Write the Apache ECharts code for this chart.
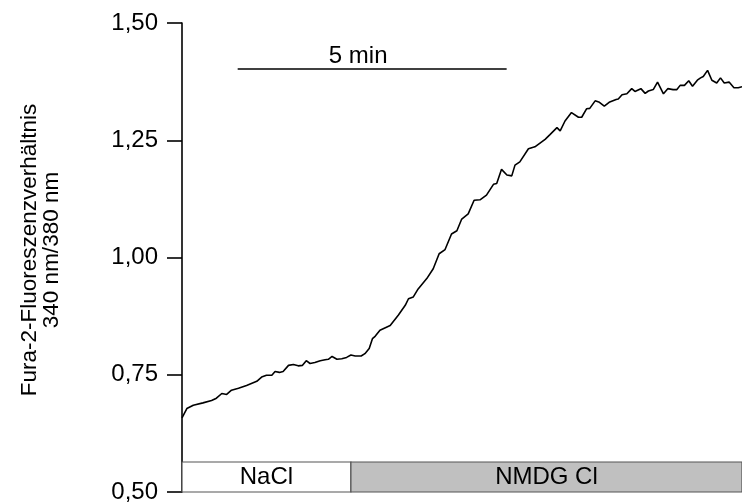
<!DOCTYPE html>
<html>
<head>
<meta charset="utf-8">
<script src="https://cdn.jsdelivr.net/npm/echarts@6/dist/echarts.min.js"></script>
<style>
  html, body { margin: 0; padding: 0; background: #fff; }
  #chart { width: 742px; height: 504px; }
</style>
</head>
<body>
<div id="chart"></div>
<script>
// Fura-2 ratio trace (time in minutes, ratio 340/380 nm)
const timeMin = [
  0.00, 0.02, 0.09, 0.21, 0.39, 0.55, 0.64, 0.74, 0.83, 0.92, 1.05, 1.20, 1.39, 1.48,
  1.57, 1.67, 1.73, 1.81, 1.88, 1.98, 2.07, 2.16, 2.24, 2.31, 2.38, 2.47, 2.57,
  2.66, 2.72, 2.79, 2.88, 2.97, 3.06, 3.14, 3.22, 3.33, 3.40, 3.48, 3.54, 3.59,
  3.68, 3.87, 4.02, 4.15, 4.21, 4.30, 4.39, 4.55, 4.67, 4.78, 4.89, 5.01, 5.11,
  5.20, 5.32, 5.43, 5.54, 5.66, 5.79, 5.85, 5.94, 6.04, 6.13, 6.19, 6.28, 6.44,
  6.56, 6.75, 6.84, 6.97, 7.03, 7.12, 7.24, 7.37, 7.43, 7.52, 7.58, 7.68, 7.76,
  7.85, 7.94, 8.07, 8.11, 8.18, 8.27, 8.36, 8.42, 8.53, 8.61, 8.67, 8.76, 8.84,
  8.95, 9.03, 9.13, 9.20, 9.26, 9.34, 9.42, 9.49, 9.58, 9.64, 9.69, 9.77, 9.85,
  9.94, 10.01, 10.08, 10.17, 10.26, 10.34, 10.41
];
const ratio = [
  0.658, 0.661, 0.678, 0.685, 0.690, 0.695, 0.700, 0.710, 0.708, 0.717, 0.721, 0.727, 0.736, 0.745,
  0.749, 0.749, 0.757, 0.755, 0.757, 0.770, 0.772, 0.769, 0.770, 0.780, 0.774, 0.776, 0.780,
  0.782, 0.783, 0.789, 0.783, 0.784, 0.787, 0.792, 0.790, 0.790, 0.795, 0.806, 0.827, 0.832,
  0.845, 0.855, 0.877, 0.898, 0.912, 0.916, 0.933, 0.955, 0.976, 1.008, 1.017, 1.050, 1.057,
  1.082, 1.093, 1.122, 1.123, 1.133, 1.156, 1.158, 1.188, 1.176, 1.174, 1.197, 1.204, 1.232,
  1.236, 1.252, 1.262, 1.277, 1.270, 1.291, 1.309, 1.299, 1.299, 1.317, 1.318, 1.334, 1.331,
  1.323, 1.331, 1.337, 1.338, 1.347, 1.349, 1.360, 1.354, 1.360, 1.350, 1.355, 1.358, 1.374,
  1.349, 1.360, 1.358, 1.358, 1.367, 1.367, 1.377, 1.365, 1.378, 1.383, 1.386, 1.399, 1.378,
  1.372, 1.383, 1.372, 1.374, 1.362, 1.362, 1.364
];

// y-axis ticks
const yTicks = [0.50, 0.75, 1.00, 1.25, 1.50];

// bath solutions along the time axis
const solutionNames = ['NaCl', 'NMDG Cl'];
const solutionBounds = [0, 3.14, 10.41];

// time scale bar
const scaleBarLabel = '5 min';
const scaleBarTime = [1.035, 6.035];
const scaleBarLevel = 1.403;

const FONT = '"Liberation Sans", Arial, sans-serif';
const FS = 24;

const chart = echarts.init(document.getElementById('chart'), null, { renderer: 'canvas' });

const solutionFills = ['#ffffff', '#c0c0c0'];
const solutionTop = 0.564;
const areas = solutionNames.map((name, i) => [
  { name: name, xAxis: solutionBounds[i], yAxis: yTicks[0], itemStyle: { color: solutionFills[i] } },
  { xAxis: solutionBounds[i + 1], yAxis: solutionTop }
]);

chart.setOption({
  animation: false,
  backgroundColor: '#ffffff',
  grid: { left: 182, right: 0, top: 23, bottom: 10, containLabel: false },
  xAxis: {
    type: 'value',
    min: solutionBounds[0],
    max: solutionBounds[solutionBounds.length - 1],
    show: false
  },
  yAxis: {
    type: 'value',
    min: yTicks[0],
    max: yTicks[yTicks.length - 1],
    interval: 0.25,
    splitLine: { show: false },
    axisLine: { show: true, lineStyle: { color: '#000', width: 1.6 } },
    axisTick: { show: true, inside: false, length: 15, lineStyle: { color: '#000', width: 1.6 } },
    axisLabel: {
      margin: 24,
      color: '#000',
      fontFamily: FONT,
      fontSize: FS,
      formatter: v => v.toFixed(2).replace('.', ',')
    }
  },
  graphic: [{
    type: 'text',
    x: 41,
    y: 250,
    rotation: Math.PI / 2,
    style: {
      text: 'Fura-2-Fluoreszenzverhältnis\n340 nm/380 nm',
      fill: '#000',
      font: '22.5px ' + FONT,
      align: 'center',
      verticalAlign: 'middle',
      lineHeight: 22
    }
  }],
  series: [{
    type: 'line',
    data: timeMin.map((t, i) => [t, ratio[i]]),
    showSymbol: false,
    symbol: 'none',
    lineStyle: { color: '#000', width: 1.6 },
    silent: true,
    markArea: {
      silent: true,
      itemStyle: { borderColor: '#555', borderWidth: 1.2 },
      label: {
        show: true,
        position: 'inside',
        color: '#000',
        fontFamily: FONT,
        fontSize: FS
      },
      data: areas
    },
    markLine: {
      silent: true,
      symbol: ['none', 'none'],
      lineStyle: { color: '#000', width: 1.5, type: 'solid' },
      label: {
        show: true,
        position: 'middle',
        formatter: scaleBarLabel,
        color: '#000',
        fontFamily: FONT,
        fontSize: FS,
        distance: 0,
        offset: [-14, 0]
      },
      data: [[
        { coord: [scaleBarTime[0], scaleBarLevel] },
        { coord: [scaleBarTime[1], scaleBarLevel] }
      ]]
    }
  }]
});
</script>
</body>
</html>
